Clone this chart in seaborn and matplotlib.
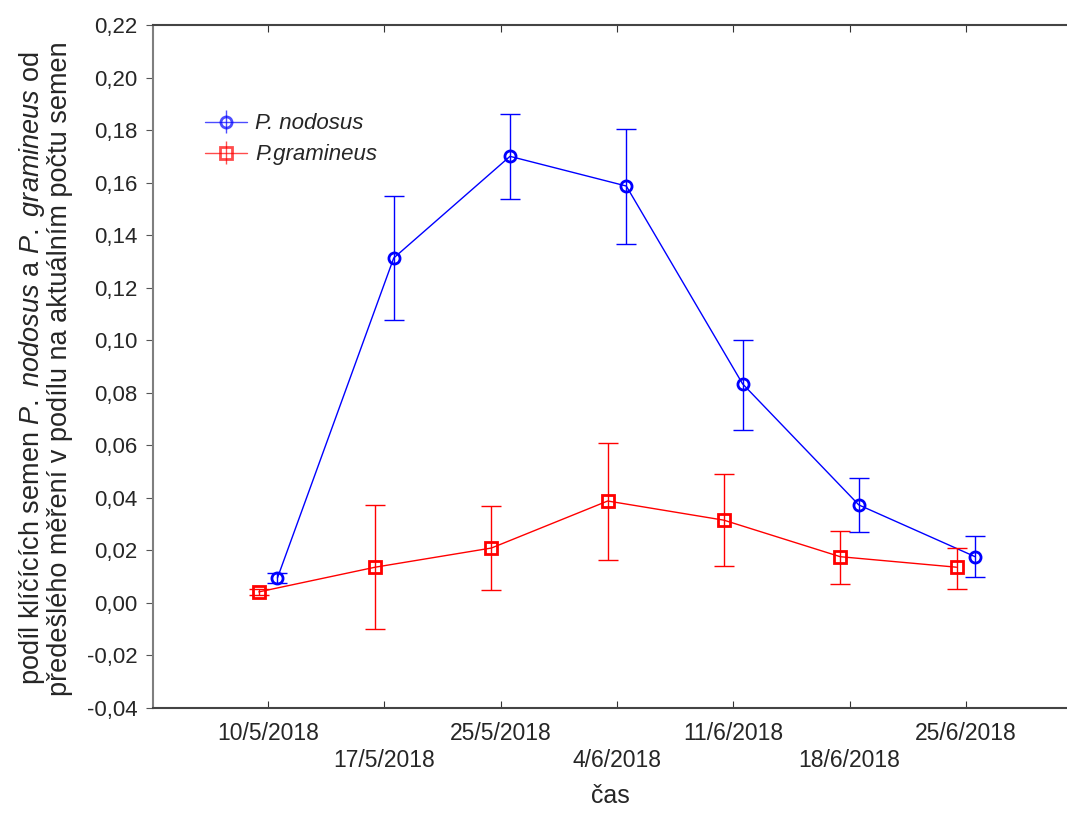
import matplotlib
matplotlib.use("Agg")
import matplotlib.pyplot as plt
import matplotlib.ticker as mticker
import seaborn as sns
import numpy as np
import pandas as pd

# data
dates = ['10/5/2018', '17/5/2018', '25/5/2018', '4/6/2018',
         '11/6/2018', '18/6/2018', '25/6/2018']

nodosus_mean = [0.0095, 0.1313, 0.1700, 0.1587, 0.0834, 0.0373, 0.0176]
nodosus_low = [0.0075, 0.1077, 0.1538, 0.1367, 0.0659, 0.0271, 0.0098]
nodosus_high = [0.0115, 0.1550, 0.1862, 0.1804, 0.1001, 0.0475, 0.0255]

gramineus_mean = [0.0042, 0.0136, 0.0209, 0.0388, 0.0315, 0.0176, 0.0136]
gramineus_low = [0.0032, -0.0100, 0.0049, 0.0164, 0.0142, 0.0071, 0.0054]
gramineus_high = [0.0052, 0.0373, 0.0369, 0.0609, 0.0489, 0.0275, 0.0211]

sns.set_style("ticks")
plt.rcParams['font.family'] = ['Liberation Sans', 'DejaVu Sans']
plt.rcParams['mathtext.fontset'] = 'custom'
plt.rcParams['mathtext.rm'] = 'Liberation Sans'
plt.rcParams['mathtext.it'] = 'Liberation Sans:italic'

series = [
    ('P. nodosus', nodosus_mean, nodosus_low, nodosus_high, '#0000ff', 'o', 0.08),
    ('P.gramineus', gramineus_mean, gramineus_low, gramineus_high, '#ff0000', 's', -0.08),
]

fig = plt.figure(figsize=(10.67, 8.14), dpi=100)
ax = fig.add_axes([0.1434, 0.1302, 0.8566, 0.8391])

pos = np.arange(len(dates))
handles = []
for name, mean, low, high, color, marker, shift in series:
    df = pd.DataFrame({'x': pos + shift, 'y': mean})
    sns.lineplot(data=df, x='x', y='y', ax=ax, color=color, lw=1,
                 marker=marker, markersize=8, markerfacecolor='none',
                 markeredgecolor=color, markeredgewidth=2, legend=False)
    mean_a = np.array(mean)
    yerr = [mean_a - np.array(low), np.array(high) - mean_a]
    ax.errorbar(pos + shift, mean, yerr=yerr, fmt='none', ecolor=color,
                elinewidth=1, capsize=7, capthick=1)
    h = ax.errorbar([], [], yerr=[], color=color, lw=1, marker=marker,
                    markersize=8, markerfacecolor='none', markeredgewidth=2,
                    capsize=7, alpha=0.7, label=name)
    handles.append(h)

ax.set_xlim(-0.99, 6.87)
ax.set_ylim(-0.04, 0.22)
ax.set_yticks(np.arange(-0.04, 0.2201, 0.02))
ax.yaxis.set_major_formatter(mticker.FuncFormatter(
    lambda v, p: f"{v:.2f}".replace('.', ',').replace('-0,00', '0,00')))
ax.set_xticks(pos)
ax.set_xticklabels([d if i % 2 == 0 else '\n' + d for i, d in enumerate(dates)],
                   linespacing=1.25)

ax.tick_params(axis='y', direction='out', length=5, labelsize=16, color='#555555', pad=6)
ax.tick_params(axis='x', direction='in', length=5, labelsize=16.5, color='#333333',
               top=True, pad=10)
for s in ['left', 'bottom', 'top']:
    ax.spines[s].set_linewidth(1.5)
ax.spines['left'].set_color('#7f7f7f')
ax.spines['bottom'].set_color('#444444')
ax.spines['top'].set_color('#444444')
ax.spines['right'].set_visible(False)

ax.set_xlabel('čas', fontsize=18, labelpad=8)
ax.set_ylabel('podíl klíčících semen $\\it{P.\\ nodosus}$ a $\\it{P.\\ gramineus}$ od\n'
              'předešlého měření v podílu na aktuálním počtu semen',
              fontsize=19.5, linespacing=1.0)
ax.yaxis.set_label_coords(-0.087, 0.497)

leg = ax.legend(handles=handles, loc='upper left', bbox_to_anchor=(0.035, 0.9),
                frameon=False, prop={'size': 16, 'style': 'italic'},
                handlelength=1.9, handletextpad=0.35, labelspacing=0.45)

fig.savefig('out.png', dpi=100)
